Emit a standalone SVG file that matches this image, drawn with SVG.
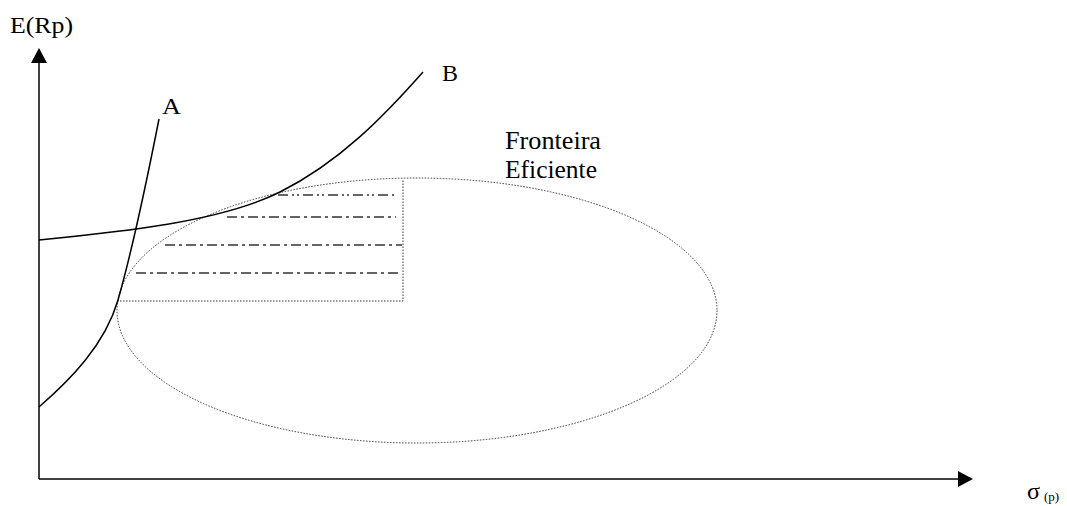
<svg xmlns="http://www.w3.org/2000/svg" width="1067" height="506" viewBox="0 0 1067 506">
<style>
text{font-family:"Liberation Serif","Times New Roman",serif;fill:#000}
.axis{stroke:#000;stroke-width:1.5;fill:none}
.curve{stroke:#000;stroke-width:1.5;fill:none}
.dot{stroke:#333;stroke-width:1;stroke-dasharray:1.5 1.5;fill:none}
.dd{stroke:#333;stroke-width:1.5;fill:none;stroke-dasharray:10 4 3 4}
.ddd{stroke:#333;stroke-width:1.5;fill:none;stroke-dasharray:10 4 2 3 2 4}
</style>
<defs>
<marker id="arr" viewBox="0 0 16 16" refX="0" refY="8" markerWidth="16" markerHeight="16" markerUnits="userSpaceOnUse" orient="auto">
<path d="M0,0 L15,8 L0,16 Z" fill="#000"/>
</marker>
</defs>
<g id="connectors">
<line id="y-axis" class="axis" x1="39" y1="479" x2="39" y2="63" marker-end="url(#arr)"/>
<line id="x-axis" class="axis" x1="39" y1="479" x2="958" y2="479" marker-end="url(#arr)"/>
</g>
<g id="ellipse">
<ellipse class="dot" cx="417" cy="310.5" rx="300" ry="132.5"/>
<path class="dot" d="M117,301 H403 V179"/>
</g>
<g id="hatch">
<line class="ddd" x1="278" y1="195" x2="396" y2="195"/>
<line class="dd" x1="227" y1="217" x2="396" y2="217"/>
<line class="dd" x1="165" y1="245" x2="402" y2="245"/>
<line class="dd" x1="136" y1="273" x2="402" y2="273"/>
</g>
<g id="curve-A">
<path class="curve" d="M39,407 C70,380 105,345 118,300 C128,265 145,190 159,119"/>
<text x="162" y="114" font-size="23" textLength="19" lengthAdjust="spacingAndGlyphs">A</text>
</g>
<g id="curve-B">
<path class="curve" d="M39,240 C120,232 220,222 280,192 C340,162 385,115 423,72"/>
<text x="442" y="81" font-size="23" textLength="16" lengthAdjust="spacingAndGlyphs">B</text>
</g>
<g id="label-frontier">
<text x="505" y="149" font-size="25" textLength="96" lengthAdjust="spacingAndGlyphs">Fronteira</text>
<text x="505" y="178" font-size="25" textLength="92" lengthAdjust="spacingAndGlyphs">Eficiente</text>
</g>
<g id="label-y">
<text x="10" y="33" font-size="23" textLength="63" lengthAdjust="spacingAndGlyphs">E(Rp)</text>
</g>
<g id="label-x">
<text x="1027" y="499" font-size="24" textLength="13" lengthAdjust="spacingAndGlyphs">σ</text>
<text x="1044" y="501" font-size="13">(p)</text>
</g>
</svg>
